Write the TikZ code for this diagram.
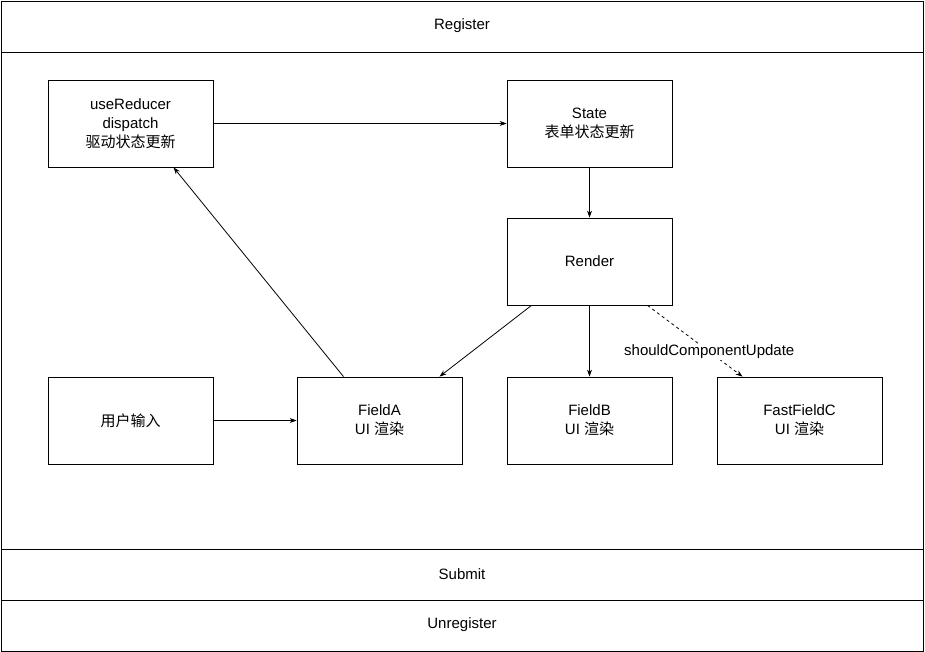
\documentclass[tikz,border=0pt]{standalone}
\usepackage{fontspec}
\setmainfont{Liberation Sans}
\newfontfamily\cjk{Noto Sans CJK SC}
\usetikzlibrary{arrows.meta,positioning}
\begin{document}
\begin{tikzpicture}[x=1pt,y=-1pt,line width=0.8pt,>={Stealth[length=7pt,width=5pt]},
  box/.style={draw,minimum width=165pt,minimum height=87pt,align=center,
    font=\fontsize{15}{19}\selectfont},
  band/.style={font=\fontsize{15}{19}\selectfont}]
  \useasboundingbox (0,0) rectangle (925,652);
  \draw (1,1) rectangle (923,651);
  \draw (1,52) -- (923,52) (1,549) -- (923,549) (1,600) -- (923,600);
  \node[band] (reg)   at (462,26)  {Register};
  \node[band] (sub)   at (462,574) {Submit};
  \node[band] (unreg) at (462,625) {Unregister};

  \node[box] (red)    at (130.5,123.5) {useReducer\\dispatch\\{\cjk 驱动状态更新}};
  \node[box] (state)  at (589.5,123.5) {State\\{\cjk 表单状态更新}};
  \node[box] (render) at (589.5,261.5) {Render};
  \node[box] (input)  at (130.5,420.5) {{\cjk 用户输入}};
  \node[box] (fa)     at (379.5,420.5) {FieldA\\UI {\cjk 渲染}};
  \node[box] (fb)     at (589.5,420.5) {FieldB\\UI {\cjk 渲染}};
  \node[box] (fc)     at (799.5,420.5) {FastFieldC\\UI {\cjk 渲染}};

  \path[->]
        (red)    edge (state)
        (state)  edge (render)
        (render) edge (fb)
        ([xshift=-58pt]render.south) edge ([xshift=60pt]fa.north)
        ([xshift=-36pt]fa.north) edge ([xshift=43pt]red.south)
        (input)  edge (fa);
  \draw[->,dashed] ([xshift=58pt]render.south) -- ([xshift=-57pt]fc.north)
    node[pos=0.65,fill=white,inner sep=1pt,font=\fontsize{15}{19}\selectfont] {shouldComponentUpdate};
\end{tikzpicture}
\end{document}
